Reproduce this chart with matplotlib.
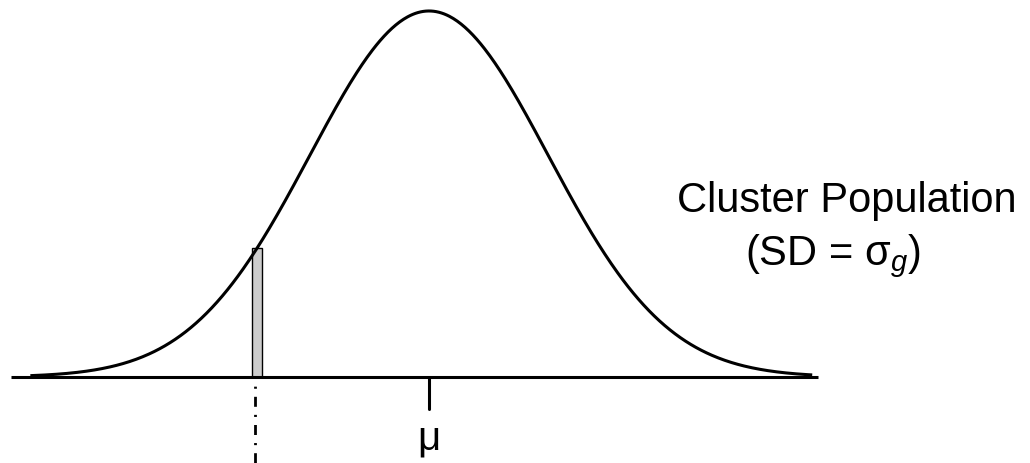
import numpy as np
import matplotlib.pyplot as plt

plt.rcParams['font.family'] = ['Liberation Sans', 'DejaVu Sans']
plt.rcParams['mathtext.fontset'] = 'custom'
plt.rcParams['mathtext.rm'] = 'Liberation Sans'
plt.rcParams['mathtext.it'] = 'Liberation Sans:italic'

# cluster population, in units of sigma
mu = 0.0
sigma = 1.0
curve_range = [-3.35, 3.22]
axis_range = [-3.51, 3.27]
sample_x = -1.445
sample_width = 0.084
label = 'Cluster Population'
sd_label = '(SD = σ$_g$)'
mean_label = 'μ'


def density(x):
    """Normal curve scaled so the peak is 1"""
    return np.exp(-0.5 * ((x - mu) / sigma)**2)


fig = plt.figure(figsize=(10.3, 4.63), dpi=100)
ax = fig.add_axes([0, 0, 1, 1])
ax.set_xlim(-3.605, 5.05)
ax.set_ylim(-0.235, 1.030)
ax.axis('off')

xs = np.linspace(curve_range[0], curve_range[1], 600)
ax.plot(xs, density(xs), color='black', lw=2.2, solid_capstyle='butt', zorder=3)

# baseline and mean tick
ax.plot(axis_range, [0, 0], color='black', lw=2.2, solid_capstyle='butt', zorder=4)
ax.plot([mu, mu], [0, -0.087], color='black', lw=2.2, solid_capstyle='round', zorder=4)

# the sampled slice
ax.bar(sample_x, density(sample_x), width=sample_width, bottom=0, color='#cccccc',
       edgecolor='black', lw=1.0, zorder=2)
ax.plot([sample_x - 0.017, sample_x - 0.017], [0, -0.235], color='black', lw=2.0,
        linestyle=(3.2, (3.6, 2.9, 0.75, 2.9)), zorder=1)

ax.text(mu, -0.197, mean_label, ha='center', va='baseline', fontsize=29)
ax.text(2.085, 0.451, label, ha='left', va='baseline', fontsize=30)
ax.text(2.655, 0.306, sd_label, ha='left', va='baseline', fontsize=30)

fig.savefig('out.png', dpi=100)
